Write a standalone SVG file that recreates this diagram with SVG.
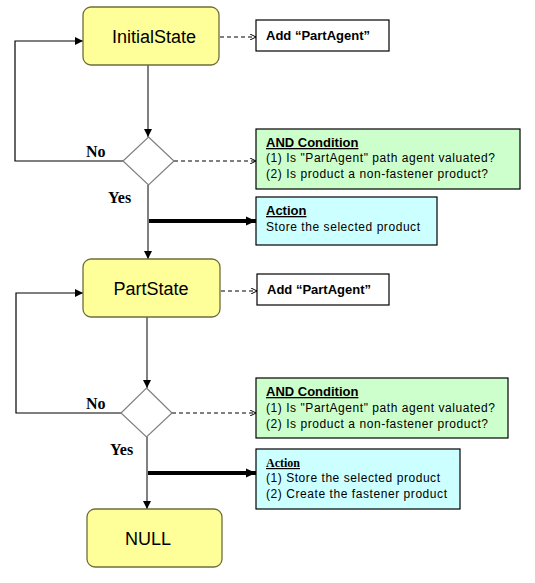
<svg xmlns="http://www.w3.org/2000/svg" width="535" height="583" viewBox="0 0 535 583">
<defs>
<style>
.state{fill:#FFFF99;stroke:#6E6E3C;stroke-width:1.3}
.stxt{font-family:"Liberation Sans",Arial,sans-serif;font-size:18px;fill:#000;text-anchor:middle}
.note{fill:#fff;stroke:#000;stroke-width:1.2}
.cond{fill:#CCFFCC;stroke:#000;stroke-width:1.2}
.act{fill:#CCFFFF;stroke:#000;stroke-width:1.2}
.bold{font-family:"Liberation Sans",Arial,sans-serif;font-size:13px;font-weight:bold;fill:#000}
.body{font-family:"Liberation Sans",Arial,sans-serif;font-size:12px;fill:#000}
.lbl{font-family:"Liberation Serif","Times New Roman",serif;font-size:16px;font-weight:bold;fill:#000}
.dia{fill:#fff;stroke:#808080;stroke-width:1.2}
.flow{stroke:#808080;stroke-width:2;fill:none}
.loop{stroke:#000;stroke-width:1.2;fill:none}
.dash{stroke:#000;stroke-width:1;stroke-dasharray:4,3;fill:none}
.thick{stroke:#000;stroke-width:4;fill:none}
</style>
<marker id="ah" markerWidth="8" markerHeight="8" refX="8" refY="4" orient="auto" markerUnits="userSpaceOnUse"><path d="M0,0 L8,4 L0,8 Z" fill="#000"/></marker>
<marker id="ahl" markerWidth="10" markerHeight="10" refX="10" refY="5" orient="auto" markerUnits="userSpaceOnUse"><path d="M0,0.5 L10,5 L0,9.5 Z" fill="#000"/></marker>
<marker id="open" markerWidth="6" markerHeight="6" refX="6" refY="3" orient="auto" markerUnits="userSpaceOnUse"><path d="M0,0 L6,3 L0,6" fill="none" stroke="#000" stroke-width="1"/></marker>
</defs>

<g id="connectors">
<line class="flow" x1="148" y1="65" x2="148" y2="137" marker-end="url(#ah)"/>
<line class="flow" x1="148" y1="185" x2="148" y2="259" marker-end="url(#ah)"/>
<line class="flow" x1="147" y1="317" x2="147" y2="388" marker-end="url(#ah)"/>
<line class="flow" x1="147" y1="437" x2="147" y2="509" marker-end="url(#ah)"/>
<polyline class="loop" points="123,161 15,161 15,41 83,41" marker-end="url(#ah)"/>
<polyline class="loop" points="121,413 16,413 16,293 83,293" marker-end="url(#ah)"/>
<line class="dash" x1="220" y1="37" x2="256" y2="37" marker-end="url(#open)"/>
<line class="dash" x1="174" y1="161" x2="256" y2="161" marker-end="url(#open)"/>
<line class="dash" x1="221" y1="291" x2="257" y2="291" marker-end="url(#open)"/>
<line class="dash" x1="172" y1="413" x2="256" y2="413" marker-end="url(#open)"/>
<line class="thick" x1="149" y1="221" x2="256" y2="221" marker-end="url(#ahl)"/>
<line class="thick" x1="148" y1="473" x2="256" y2="473" marker-end="url(#ahl)"/>
<text class="lbl" x="86" y="157">No</text>
<text class="lbl" x="108" y="203">Yes</text>
<text class="lbl" x="86" y="409">No</text>
<text class="lbl" x="110" y="455">Yes</text>
</g>

<g id="initial-state">
<rect class="state" x="83" y="7" width="136" height="58" rx="8"/>
<text class="stxt" x="154" y="43">InitialState</text>
</g>
<g id="add-partagent-1">
<rect class="note" x="256" y="20" width="133" height="31"/>
<text class="bold" x="266" y="40">Add “PartAgent”</text>
</g>
<g id="decision-1">
<polygon class="dia" points="148.5,137 174,161 148.5,185 123,161"/>
</g>
<g id="and-condition-1">
<rect class="cond" x="256" y="129" width="264" height="60"/>
<text class="bold" x="266" y="147" text-decoration="underline">AND Condition</text>
<text class="body" x="266" y="162" textLength="229" lengthAdjust="spacing">(1) Is "PartAgent" path agent valuated?</text>
<text class="body" x="266" y="178" textLength="222" lengthAdjust="spacing">(2) Is product a non-fastener product?</text>
</g>
<g id="action-1">
<rect class="act" x="256" y="197" width="181" height="48"/>
<text class="bold" x="266" y="215" text-decoration="underline">Action</text>
<text class="body" x="266" y="231" textLength="154" lengthAdjust="spacing">Store the selected product</text>
</g>

<g id="part-state">
<rect class="state" x="83" y="259" width="137" height="58" rx="8"/>
<text class="stxt" x="151" y="295">PartState</text>
</g>
<g id="add-partagent-2">
<rect class="note" x="257" y="274" width="132" height="31"/>
<text class="bold" x="267" y="294">Add “PartAgent”</text>
</g>
<g id="decision-2">
<polygon class="dia" points="146.5,388 172,413 146.5,437 121,413"/>
</g>
<g id="and-condition-2">
<rect class="cond" x="256" y="378" width="252" height="60"/>
<text class="bold" x="266" y="396" text-decoration="underline">AND Condition</text>
<text class="body" x="266" y="412" textLength="229" lengthAdjust="spacing">(1) Is "PartAgent" path agent valuated?</text>
<text class="body" x="266" y="428" textLength="222" lengthAdjust="spacing">(2) Is product a non-fastener product?</text>
</g>
<g id="action-2">
<rect class="act" x="256" y="449" width="204" height="60"/>
<text x="266" y="467" font-family="'Liberation Serif','Times New Roman',serif" font-size="12" font-weight="bold" text-decoration="underline">Action</text>
<text class="body" x="266" y="482" textLength="174" lengthAdjust="spacing">(1) Store the selected product</text>
<text class="body" x="266" y="498" textLength="181" lengthAdjust="spacing">(2) Create the fastener product</text>
</g>

<g id="null-state">
<rect class="state" x="87" y="509" width="135" height="58" rx="8"/>
<text class="stxt" x="148" y="545">NULL</text>
</g>
</svg>
